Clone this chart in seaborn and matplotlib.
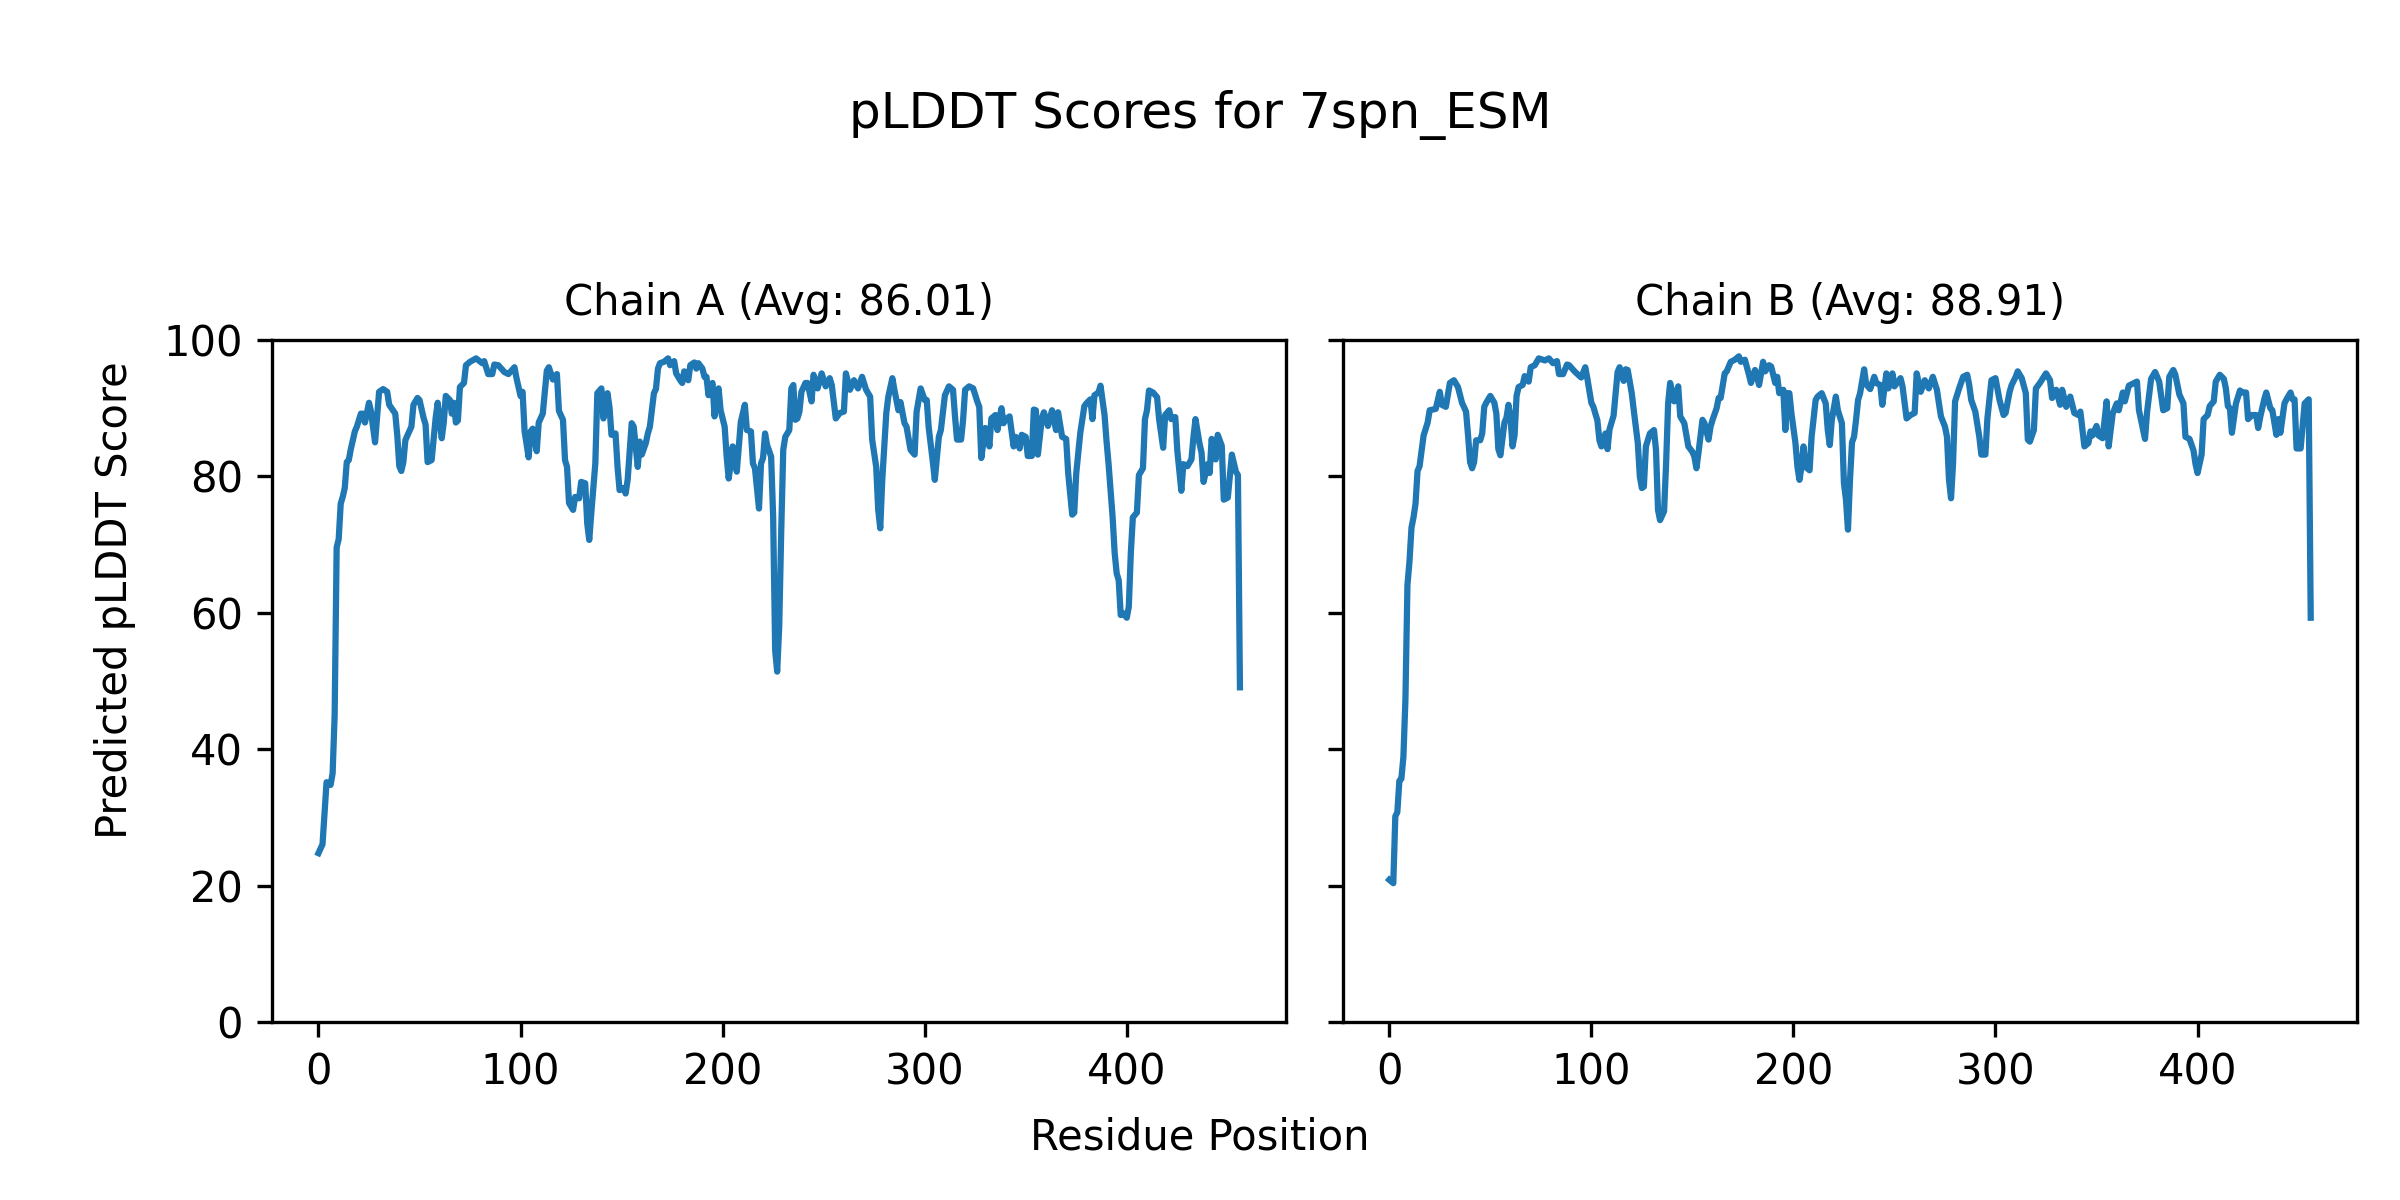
import matplotlib
matplotlib.use("Agg")
import matplotlib.pyplot as plt
import seaborn as sns

# per-residue pLDDT (position, score)
chain_a_pos = [0, 2, 4, 6, 7, 8, 9, 10, 11, 12, 13, 14, 15, 16, 18, 19, 21, 22, 23, 25, 26, 28, 30, 32, 34, 35,
               38, 39, 40, 41, 42, 43, 44, 46, 47, 49, 50, 52, 53, 54, 56, 58, 59, 61, 62, 63, 65, 66, 67, 68, 69,
               70, 72, 73, 75, 78, 81, 82, 84, 86, 87, 89, 92, 94, 97, 98, 100, 101, 102, 104, 105, 106, 108, 109,
               111, 113, 114, 116, 118, 119, 121, 122, 123, 124, 126, 127, 129, 130, 132, 133, 134, 135, 137, 138,
               140, 141, 143, 144, 145, 147, 148, 149, 151, 152, 153, 155, 156, 158, 159, 160, 162, 163, 164, 166,
               167, 168, 169, 171, 173, 174, 176, 177, 179, 180, 181, 183, 184, 186, 187, 188, 190, 191, 192, 193,
               195, 196, 197, 198, 199, 201, 202, 203, 204, 205, 207, 208, 209, 211, 212, 214, 215, 216, 218, 219,
               220, 221, 222, 224, 225, 226, 227, 228, 229, 230, 231, 233, 234, 235, 236, 237, 238, 239, 241, 242,
               244, 245, 247, 249, 251, 253, 254, 256, 258, 260, 261, 263, 265, 267, 269, 271, 273, 274, 276, 277,
               278, 279, 281, 282, 284, 285, 287, 288, 290, 291, 293, 295, 296, 298, 300, 301, 302, 304, 305, 307,
               308, 310, 312, 314, 315, 316, 318, 319, 320, 322, 324, 326, 327, 328, 330, 331, 332, 333, 335, 336,
               337, 338, 339, 340, 342, 344, 345, 347, 348, 350, 351, 353, 354, 355, 356, 358, 359, 361, 363, 365,
               366, 368, 370, 371, 373, 374, 375, 377, 379, 380, 382, 383, 384, 386, 387, 389, 390, 391, 393, 394,
               395, 396, 397, 398, 400, 401, 402, 403, 405, 406, 408, 409, 410, 411, 413, 415, 416, 418, 419, 421,
               422, 424, 425, 427, 428, 430, 432, 433, 434, 436, 437, 438, 440, 441, 442, 444, 445, 447, 448, 450,
               452, 454, 455, 456]
chain_a_score = [24.8, 26.1, 35.2, 34.8, 36.5, 45.0, 69.6, 70.8, 76.0, 77.0, 78.3, 82.1, 82.4, 84.0, 86.6, 87.3,
                 89.2, 89.2, 87.9, 90.8, 89.5, 85.0, 92.4, 92.8, 92.4, 90.5, 89.2, 86.0, 81.5, 80.8, 82.1, 85.3,
                 86.0, 87.3, 90.5, 91.5, 91.2, 88.6, 87.6, 82.1, 82.4, 88.6, 90.8, 85.6, 87.9, 91.8, 91.2, 89.2,
                 90.8, 87.9, 88.2, 93.1, 93.7, 96.3, 96.8, 97.3, 96.6, 96.9, 95.0, 95.0, 96.4, 96.3, 95.3, 95.0,
                 96.0, 94.4, 91.8, 92.4, 86.6, 82.8, 86.6, 87.0, 83.7, 87.9, 89.2, 95.5, 96.0, 94.2, 95.0, 89.6,
                 88.3, 82.4, 81.4, 76.1, 75.1, 77.0, 76.8, 79.2, 79.0, 73.1, 70.7, 74.6, 81.9, 92.2, 92.9, 88.5,
                 92.2, 90.2, 86.1, 86.3, 81.4, 78.0, 78.3, 77.5, 79.5, 87.8, 87.3, 81.4, 85.1, 83.2, 84.9, 86.3,
                 87.3, 92.2, 92.8, 95.8, 96.6, 96.8, 97.3, 96.3, 96.9, 95.1, 94.1, 93.7, 95.4, 94.1, 96.3, 96.7,
                 95.8, 96.6, 95.8, 94.6, 94.6, 91.9, 93.7, 88.8, 91.7, 92.9, 89.7, 87.3, 82.9, 79.7, 81.9, 84.4,
                 80.7, 84.4, 88.0, 90.5, 86.8, 86.6, 81.9, 81.2, 75.3, 81.9, 82.7, 86.3, 84.6, 82.9, 74.1, 54.5,
                 51.4, 58.0, 72.0, 83.9, 85.8, 86.8, 92.9, 93.4, 88.3, 88.5, 89.5, 92.4, 93.7, 93.7, 91.0, 94.9,
                 92.9, 95.1, 93.2, 94.4, 93.4, 88.5, 89.3, 89.5, 95.1, 92.7, 94.1, 92.9, 94.6, 92.7, 91.7, 85.4,
                 81.4, 75.1, 72.4, 79.5, 89.3, 91.7, 94.4, 92.7, 89.7, 90.9, 87.8, 87.3, 83.9, 83.2, 89.5, 92.9,
                 91.2, 91.2, 87.1, 82.2, 79.5, 85.8, 86.8, 91.9, 93.2, 92.7, 88.8, 85.4, 85.4, 88.3, 92.7, 93.2,
                 92.9, 91.0, 90.2, 82.7, 87.1, 86.8, 84.4, 88.5, 89.0, 86.8, 88.5, 90.0, 87.8, 88.3, 88.8, 84.4,
                 85.8, 84.1, 86.1, 85.8, 83.0, 83.0, 89.8, 89.7, 83.2, 88.6, 89.4, 87.4, 89.7, 86.8, 89.4, 85.8,
                 85.5, 80.5, 74.4, 74.7, 80.5, 86.4, 90.3, 90.7, 91.3, 88.4, 91.9, 92.3, 93.3, 89.0, 85.1, 81.8,
                 74.0, 68.8, 65.8, 64.8, 59.7, 60.0, 59.3, 60.9, 68.8, 74.0, 74.7, 80.2, 81.2, 88.4, 89.7, 92.6,
                 92.3, 91.6, 88.4, 84.2, 89.0, 89.7, 88.4, 88.7, 83.8, 77.9, 81.8, 81.5, 82.5, 85.8, 88.4, 84.8,
                 83.5, 79.2, 81.8, 80.5, 85.5, 82.5, 86.1, 84.5, 76.6, 76.9, 83.2, 80.7, 80.2, 49.1]

chain_b_pos = [0, 2, 3, 4, 5, 6, 7, 8, 9, 10, 11, 12, 13, 14, 15, 17, 19, 20, 23, 25, 26, 28, 30, 32, 34, 36, 38,
               39, 40, 41, 42, 43, 45, 46, 47, 48, 50, 52, 53, 54, 55, 57, 58, 59, 60, 61, 62, 63, 64, 66, 67, 69,
               70, 72, 74, 77, 79, 81, 83, 84, 86, 88, 89, 92, 95, 97, 98, 100, 101, 103, 104, 105, 107, 108, 109,
               111, 113, 114, 116, 117, 118, 120, 121, 123, 124, 125, 126, 127, 129, 131, 132, 133, 134, 136, 137,
               138, 139, 141, 143, 144, 146, 148, 150, 151, 152, 153, 155, 156, 158, 159, 160, 162, 163, 164, 166,
               167, 169, 171, 173, 174, 176, 178, 179, 181, 182, 183, 185, 186, 188, 189, 191, 192, 193, 195, 196,
               197, 198, 199, 201, 202, 203, 204, 205, 206, 208, 209, 211, 212, 214, 216, 217, 218, 219, 221, 222,
               224, 225, 226, 227, 228, 229, 230, 231, 232, 233, 235, 236, 238, 240, 241, 243, 244, 246, 247, 249,
               250, 253, 254, 256, 258, 260, 261, 263, 265, 267, 269, 271, 273, 275, 276, 277, 278, 279, 280, 282,
               284, 286, 287, 288, 290, 292, 293, 295, 296, 298, 300, 302, 304, 305, 307, 308, 310, 311, 313, 315,
               316, 317, 319, 320, 322, 325, 327, 328, 330, 332, 333, 335, 337, 339, 341, 342, 344, 346, 347, 348,
               350, 351, 353, 355, 356, 358, 360, 361, 363, 364, 366, 368, 370, 371, 374, 375, 377, 379, 381, 383,
               385, 386, 388, 389, 391, 393, 394, 396, 398, 399, 400, 402, 403, 405, 406, 408, 409, 411, 413, 414,
               415, 416, 417, 419, 421, 422, 424, 425, 427, 429, 430, 431, 433, 434, 436, 437, 439, 440, 441, 443,
               444, 446, 447, 448, 449, 451, 453, 455, 456]
chain_b_score = [20.9, 20.4, 30.2, 30.8, 35.4, 35.7, 38.9, 47.3, 64.1, 67.5, 72.5, 74.0, 76.0, 80.8, 81.5, 86.0,
                 87.9, 89.7, 89.9, 92.4, 90.5, 90.2, 93.7, 94.1, 93.1, 90.8, 89.5, 86.0, 82.1, 81.2, 82.1, 85.3,
                 85.3, 86.3, 90.2, 90.8, 91.8, 90.8, 89.2, 84.0, 83.1, 87.9, 88.6, 90.5, 88.6, 84.4, 86.0, 91.8,
                 93.1, 93.4, 94.7, 93.9, 96.0, 96.3, 97.3, 97.0, 97.3, 96.6, 96.9, 95.0, 95.0, 96.4, 96.3, 95.3,
                 94.5, 96.0, 94.4, 90.8, 90.2, 88.2, 85.3, 84.4, 86.3, 84.0, 86.9, 88.9, 95.3, 96.0, 94.0, 95.7,
                 95.6, 92.2, 89.7, 84.9, 80.0, 78.3, 78.5, 84.4, 86.3, 86.8, 83.9, 75.1, 73.6, 74.9, 81.9, 90.7,
                 93.7, 91.0, 93.2, 88.8, 87.8, 84.4, 83.6, 82.9, 81.2, 83.4, 88.3, 87.8, 85.4, 87.3, 88.3, 90.0,
                 91.5, 91.5, 95.1, 95.4, 96.8, 97.1, 97.6, 96.8, 97.1, 94.9, 93.7, 95.6, 94.6, 93.4, 96.8, 95.4,
                 96.3, 96.1, 93.7, 94.6, 92.2, 92.7, 86.8, 92.2, 92.2, 89.3, 84.9, 81.4, 79.5, 81.4, 84.4, 81.4,
                 80.9, 85.8, 91.2, 91.7, 92.2, 90.7, 86.8, 84.6, 88.3, 91.7, 89.7, 87.8, 79.0, 76.6, 72.2, 79.5,
                 85.0, 85.8, 88.3, 91.2, 92.2, 95.7, 93.5, 92.8, 94.6, 93.7, 93.4, 90.5, 95.1, 92.9, 95.1, 93.2,
                 94.4, 93.2, 88.5, 89.0, 89.3, 95.1, 92.4, 94.1, 92.9, 94.6, 92.7, 88.8, 87.3, 85.8, 79.5, 76.8,
                 81.9, 91.0, 92.9, 94.6, 94.9, 93.4, 91.2, 89.5, 85.8, 83.2, 83.2, 88.5, 94.1, 94.4, 91.2, 89.0,
                 89.3, 92.4, 93.4, 94.6, 95.4, 94.4, 92.2, 85.4, 85.1, 86.8, 92.9, 93.7, 95.1, 94.1, 91.5, 92.7,
                 90.5, 92.7, 90.2, 91.7, 89.3, 89.0, 89.5, 84.4, 84.9, 86.6, 86.0, 87.4, 86.0, 85.6, 91.0, 84.4,
                 89.2, 90.7, 89.7, 92.3, 91.0, 93.3, 93.6, 93.9, 89.7, 85.5, 89.4, 94.3, 95.3, 93.9, 89.7, 90.0,
                 94.6, 95.6, 94.9, 92.0, 90.7, 85.8, 85.5, 83.8, 81.8, 80.5, 83.2, 88.4, 89.0, 90.3, 91.0, 93.9,
                 94.9, 94.3, 92.9, 90.3, 90.0, 86.4, 90.7, 92.6, 92.3, 92.3, 88.4, 89.0, 89.0, 87.1, 88.7, 91.3,
                 92.3, 90.0, 89.7, 86.1, 88.4, 86.4, 90.7, 91.3, 92.3, 91.3, 91.3, 84.1, 84.1, 90.7, 91.3, 59.3]

chain_names = ["A", "B"]
chain_avgs = [86.01, 88.91]
model_name = "7spn_ESM"

fig, axes = plt.subplots(1, 2, figsize=(8, 4), sharey=True)
fig.subplots_adjust(left=0.1135, right=0.982, bottom=0.148, top=0.7167, wspace=0.0564)

series = [(chain_a_pos, chain_a_score), (chain_b_pos, chain_b_score)]
for ax, name, avg, (pos, score) in zip(axes, chain_names, chain_avgs, series):
    sns.lineplot(x=pos, y=score, ax=ax, color="tab:blue", linewidth=1.5)
    ax.set_title(f"Chain {name} (Avg: {avg:.2f})", fontsize=10)
    ax.set_xlabel("")
    ax.set_ylabel("")
    ax.set_ylim(0, 100)

fig.text(0.5, 0.904, f"pLDDT Scores for {model_name}", ha="center", va="center", fontsize=12)
fig.text(0.5, 0.0525, "Residue Position", ha="center", va="center", fontsize=10)
fig.text(0.0478, 0.5, "Predicted pLDDT Score", ha="center", va="center", rotation=90, fontsize=10)

fig.savefig("out.png", dpi=300)
